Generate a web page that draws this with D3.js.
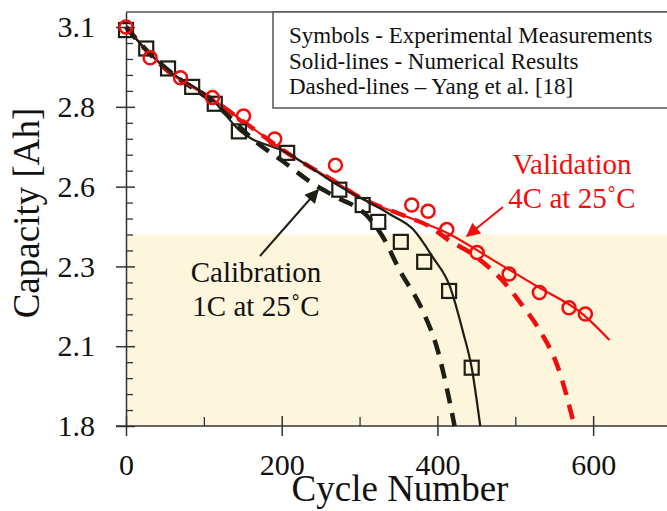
<!DOCTYPE html>
<html>
<head>
<meta charset="utf-8">
<script src="https://cdn.jsdelivr.net/npm/d3@7"></script>
<style>
  body { margin: 0; background: #fff; }
  svg { display: block; font-family: "Liberation Serif", "Times New Roman", serif; }
</style>
</head>
<body>
<svg id="chart" width="667" height="511"></svg>
<script>
// experimental points, calibration 1C (squares)
const calibCycles = [0, 26, 54, 85, 114, 145, 207, 274, 304, 324, 353, 383, 415, 444];
const calibCap = [3.09, 3.03, 2.965, 2.905, 2.85, 2.76, 2.69, 2.57, 2.52, 2.465, 2.40, 2.335, 2.24, 1.99];

// experimental points, validation 4C (circles)
const validCycles = [0, 31, 70, 111, 151, 191, 269, 367, 388, 412, 451, 492, 531, 569, 590];
const validCap = [3.1, 3.0, 2.935, 2.87, 2.81, 2.735, 2.65, 2.52, 2.50, 2.44, 2.365, 2.295, 2.235, 2.185, 2.165];

// numerical results (solid lines)
const numCalibCycles = [0, 26, 54, 114, 145, 207, 275, 339, 369, 394, 416, 433, 444, 455];
const numCalibCap = [3.1, 3.025, 2.96, 2.855, 2.765, 2.69, 2.58, 2.49, 2.44, 2.35, 2.255, 2.105, 1.99, 1.8];
const numValidCycles = [0, 26, 50, 112, 160, 207, 266, 301, 360, 412, 470, 528, 587, 621];
const numValidCap = [3.1, 3.025, 2.965, 2.863, 2.775, 2.69, 2.60, 2.544, 2.4825, 2.43, 2.343, 2.255, 2.164, 2.08];

// Yang et al. [18] (dashed lines)
const yangCalibCycles = [0, 26, 54, 114, 170, 200, 240, 269, 308, 329, 351, 382, 400, 414, 422];
const yangCalibCap = [3.1, 3.025, 2.96, 2.85, 2.72, 2.665, 2.59, 2.547, 2.489, 2.42, 2.31, 2.17, 2.05, 1.90, 1.8];
const yangValidCycles = [0, 26, 50, 112, 160, 207, 266, 301, 360, 390, 412, 447, 482, 509, 533, 555, 576];
const yangValidCap = [3.1, 3.025, 2.965, 2.863, 2.775, 2.69, 2.60, 2.544, 2.4825, 2.45, 2.41, 2.356, 2.278, 2.193, 2.105, 1.99, 1.8];

// axes
const xTicks = [0, 200, 400, 600];
const xMinorTicks = [100, 300, 500, 700];
const yTicks = [1.8, 2.06, 2.32, 2.58, 2.84, 3.1];
const yTickLabels = ["1.8", "2.1", "2.3", "2.6", "2.8", "3.1"];
const shadedBand = [1.8, 2.424];

const legendLines = [
    "Symbols - Experimental Measurements",
    "Solid-lines - Numerical Results",
    "Dashed-lines \u2013 Yang et al. [18]"
];

const RED = "#f20d0d";
const BLACK = "#1e1e14";

let svg = d3.select("#chart");

let x = d3.scaleLinear().domain([0, 700]).range([126, 671]);
let y = d3.scaleLinear().domain([1.8, 3.149]).range([426, 12]);

// light shaded band
svg.append("rect")
    .attr("x", x(0))
    .attr("y", y(shadedBand[1]))
    .attr("width", x(700) - x(0))
    .attr("height", y(shadedBand[0]) - y(shadedBand[1]))
    .style("fill", "#fdf5dc");

// frame top
svg.append("line")
    .attr("x1", x(0)).attr("x2", x(700))
    .attr("y1", y(3.149)).attr("y2", y(3.149))
    .style("stroke", "#555").style("stroke-width", 1.5);

// minor ticks, inward only
let yMinor = [];
for (let i = 0; i < yTicks.length - 1; i++) {
    for (let k = 1; k < 5; k++) yMinor.push(yTicks[i] + k * 0.052);
}
svg.append("g")
    .attr("transform", "translate(" + x(0) + ",0)")
    .call(d3.axisRight(y).tickValues(yMinor).tickSize(7).tickFormat(""))
    .call(g => g.select(".domain").remove())
    .selectAll("line").style("stroke", "#333").style("stroke-width", 1.3);

svg.append("g")
    .attr("transform", "translate(0," + y(1.8) + ")")
    .call(d3.axisTop(x).tickValues(xMinorTicks).tickSize(9).tickFormat(""))
    .call(g => g.select(".domain").remove())
    .selectAll("line").style("stroke", "#333").style("stroke-width", 1.3);

// y axis
let yAxis = svg.append("g")
    .attr("transform", "translate(" + x(0) + ",0)")
    .call(d3.axisLeft(y).tickValues(yTicks).tickSizeInner(10).tickSizeOuter(0)
        .tickPadding(21).tickFormat((d, i) => yTickLabels[i]));
yAxis.selectAll(".tick line").attr("x2", -10).attr("x1", 9);
yAxis.select(".domain").style("stroke", "#333").style("stroke-width", 1.5);
yAxis.selectAll("line").style("stroke", "#333").style("stroke-width", 1.5);
yAxis.selectAll("text")
    .style("font-size", "30px")
    .style("font-family", "'Liberation Serif', serif")
    .style("fill", "#111");

// x axis
let xAxis = svg.append("g")
    .attr("transform", "translate(0," + y(1.8) + ")")
    .call(d3.axisBottom(x).tickValues(xTicks).tickSizeInner(10).tickSizeOuter(0)
        .tickPadding(18).tickFormat(d3.format("d")));
xAxis.selectAll(".tick line").attr("y1", -10);
xAxis.select(".domain").attr("d", "M" + (x(0) - 10) + ",0H" + x(700))
    .style("stroke", "#333").style("stroke-width", 1.5);
xAxis.selectAll("line").style("stroke", "#333").style("stroke-width", 1.5);
xAxis.selectAll("text")
    .style("font-size", "30px")
    .style("font-family", "'Liberation Serif', serif")
    .style("fill", "#111");

// axis titles
svg.append("text")
    .attr("transform", "translate(39," + 213 + ") rotate(-90)")
    .attr("text-anchor", "middle")
    .style("font-size", "37px")
    .style("fill", "#111")
    .text("Capacity [Ah]");

svg.append("text")
    .attr("x", 400).attr("y", 501)
    .attr("text-anchor", "middle")
    .style("font-size", "37px")
    .style("fill", "#111")
    .text("Cycle Number");

// curves
let curveG = svg.append("g");
let line = d3.line()
    .x(d => x(d[0]))
    .y(d => y(d[1]))
    .curve(d3.curveMonotoneX);

function drawCurve(cycles, caps, color, width, dash) {
    let pts = cycles.map((c, i) => [c, caps[i]]);
    let p = curveG.append("path")
        .datum(pts)
        .attr("d", line)
        .style("fill", "none")
        .style("stroke", color)
        .style("stroke-width", width);
    if (dash) p.style("stroke-dasharray", dash);
}

drawCurve(yangValidCycles, yangValidCap, RED, 4.5, "15,10");
drawCurve(yangCalibCycles, yangCalibCap, BLACK, 4.5, "15,10");
drawCurve(numValidCycles, numValidCap, RED, 2.2, null);
drawCurve(numCalibCycles, numCalibCap, BLACK, 2.2, null);

// experimental markers
svg.append("g").selectAll("rect")
    .data(calibCycles.map((c, i) => [c, calibCap[i]]))
    .enter().append("rect")
    .attr("x", d => x(d[0]) - 7)
    .attr("y", d => y(d[1]) - 7)
    .attr("width", 14).attr("height", 14)
    .style("fill", "none")
    .style("stroke", BLACK)
    .style("stroke-width", 2.2);

svg.append("g").selectAll("circle")
    .data(validCycles.map((c, i) => [c, validCap[i]]))
    .enter().append("circle")
    .attr("cx", d => x(d[0]))
    .attr("cy", d => y(d[1]))
    .attr("r", 6.5)
    .style("fill", "none")
    .style("stroke", RED)
    .style("stroke-width", 2.5);

// legend box
svg.append("rect")
    .attr("x", 273).attr("y", 12)
    .attr("width", 420).attr("height", 96)
    .style("fill", "#fff")
    .style("stroke", "#555")
    .style("stroke-width", 1.5);

svg.append("g").selectAll("text")
    .data(legendLines)
    .enter().append("text")
    .attr("x", 289)
    .attr("y", (d, i) => 43 + i * 25.5)
    .style("font-size", "23px")
    .style("fill", "#111")
    .text(d => d);

// arrows
let defs = svg.append("defs");
[["arrowBlack", BLACK], ["arrowRed", RED]].forEach(function (a) {
    defs.append("marker")
        .attr("id", a[0])
        .attr("viewBox", "0 0 10 10")
        .attr("refX", 9).attr("refY", 5)
        .attr("markerWidth", 8).attr("markerHeight", 7)
        .attr("markerUnits", "strokeWidth")
        .attr("orient", "auto")
        .append("path")
        .attr("d", "M0,0L10,5L0,10Z")
        .style("fill", a[1]);
});

svg.append("line")
    .attr("x1", 260).attr("y1", 256)
    .attr("x2", 318).attr("y2", 190)
    .style("stroke", BLACK).style("stroke-width", 2)
    .attr("marker-end", "url(#arrowBlack)");

svg.append("line")
    .attr("x1", 503).attr("y1", 207)
    .attr("x2", 467).attr("y2", 236)
    .style("stroke", RED).style("stroke-width", 2)
    .attr("marker-end", "url(#arrowRed)");

// annotations
const notes = [
    { lines: ["Calibration", "1C at 25\u02DAC"], x: 256, y: 282, color: "#111" },
    { lines: ["Validation", "4C at 25\u02DAC"], x: 572, y: 174, color: RED }
];
notes.forEach(function (n) {
    svg.append("g").selectAll("text")
        .data(n.lines)
        .enter().append("text")
        .attr("x", n.x)
        .attr("y", (d, i) => n.y + i * 34)
        .attr("text-anchor", "middle")
        .style("font-size", "29px")
        .style("fill", n.color)
        .text(d => d);
});
</script>
</body>
</html>
